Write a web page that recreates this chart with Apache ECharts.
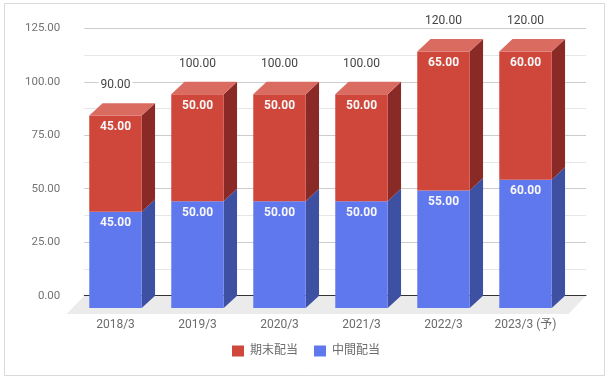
<!DOCTYPE html>
<html>
<head>
<meta charset="utf-8">
<script src="https://cdn.jsdelivr.net/npm/echarts@6/dist/echarts.min.js"></script>
<style>html,body{margin:0;padding:0;background:#fff}#c{width:612px;height:381px}</style>
</head>
<body>
<div id="c"></div>
<script>
const categories = ['2018/3', '2019/3', '2020/3', '2021/3', '2022/3', '2023/3 (予)'];
const interimDividend = [45, 50, 50, 50, 55, 60];   // 中間配当
const yearEndDividend = [45, 50, 50, 50, 65, 60];   // 期末配当
const yMin = 0, yMax = 125, yInterval = 25;

const DX = 13.3, DY = 12.4;
const FONT = 'Roboto, "Noto Sans CJK JP", sans-serif';
const palette = {
  '期末配当': { front: '#cf463b', side: '#8a2a26', top: '#da6b61' },
  '中間配当': { front: '#6078ee', side: '#3d50a2', top: '#8090f0' }
};

const blueData = categories.map((c, i) => [i, 0, interimDividend[i]]);
const redData = categories.map((c, i) => [i, interimDividend[i], interimDividend[i] + yearEndDividend[i]]);
const totalData = categories.map((c, i) => [i, interimDividend[i] + yearEndDividend[i]]);

function boxRenderer(name, isTop) {
  const col = palette[name];
  return function (params, api) {
    const i = api.value(0), v0 = api.value(1), v1 = api.value(2);
    const p0 = api.coord([i, v0]);
    const p1 = api.coord([i, v1]);
    const w = api.size([1, 0])[0] * 0.64;
    const xL = p0[0] - w / 2, xR = p0[0] + w / 2, yB = p0[1], yT = p1[1];
    const children = [
      { type: 'polygon', shape: { points: [[xR, yB], [xR + DX, yB - DY], [xR + DX, yT - DY], [xR, yT]] }, style: { fill: col.side } },
      { type: 'rect', shape: { x: xL, y: yT, width: w, height: yB - yT }, style: { fill: col.front } }
    ];
    if (isTop) {
      children.push({ type: 'polygon', shape: { points: [[xL, yT], [xR, yT], [xR + DX, yT - DY], [xL + DX, yT - DY]] }, style: { fill: col.top } });
    }
    children.push({
      type: 'text', z2: 10,
      style: { text: (v1 - v0).toFixed(2), x: p0[0], y: yT + 11.5, align: 'center', verticalAlign: 'middle',
               fill: '#f8f8f8', font: 'bold 12px ' + FONT }
    });
    return { type: 'group', children };
  };
}

const option = {
  animation: false,
  backgroundColor: '#ffffff',
  textStyle: { fontFamily: FONT },
  graphic: [{
    type: 'rect', shape: { x: 4.5, y: 3.5, width: 600, height: 372 },
    style: { fill: 'none', stroke: '#d9d9d9', lineWidth: 1 }, silent: true, z: -10
  }],
  legend: {
    data: ['期末配当', '中間配当'],
    bottom: 19, left: 'center',
    icon: 'rect', itemWidth: 12, itemHeight: 11, itemGap: 16,
    textStyle: { color: '#6b6b6b', fontSize: 12, fontFamily: FONT, padding: [0, 0, 0, 1] }
  },
  grid: [
    { left: 84.3, right: 26, top: 28.3, bottom: 85.3 },
    { left: 74.5, width: 492, top: 28.3 + DY, bottom: 85.3 - DY }
  ],
  xAxis: [
    { gridIndex: 0, type: 'category', data: categories, z: 1,
      axisLine: { show: true, lineStyle: { color: '#333333', width: 1 } },
      axisTick: { show: false }, axisLabel: { show: false }, splitLine: { show: false } },
    { gridIndex: 1, type: 'category', data: categories,
      axisLine: { show: false }, axisTick: { show: false },
      axisLabel: { color: '#6b6b6b', fontSize: 12, margin: 11, fontFamily: FONT, interval: 0 } }
  ],
  yAxis: [
    { gridIndex: 0, type: 'value', min: yMin, max: yMax, interval: yInterval,
      axisLine: { show: false }, axisTick: { show: false },
      axisLabel: { color: '#737373', fontSize: 11.5, margin: 24, fontFamily: FONT, formatter: v => v.toFixed(2) },
      splitLine: { show: true, lineStyle: { color: '#cccccc', width: 1 } },
      minorTick: { show: false, splitNumber: 2 },
      minorSplitLine: { show: true, lineStyle: { color: '#e6e6e6', width: 1 } } },
    { gridIndex: 1, type: 'value', min: yMin, max: yMax, interval: yInterval, show: false,
      splitLine: { show: false } }
  ],
  series: [
    { name: 'floor', type: 'custom', xAxisIndex: 0, yAxisIndex: 0, z: 0, silent: true,
      data: [[0, 0]],
      renderItem: function (params, api) {
        const cs = params.coordSys;
        const yb = cs.y + cs.height;
        return { type: 'polygon', shape: { points: [[cs.x, yb], [cs.x + cs.width, yb], [cs.x + cs.width - 17.6, yb + 18.3], [cs.x - 17.6, yb + 18.3]] },
                 style: { fill: '#ebebeb' } };
      } },
    { name: '中間配当', type: 'custom', xAxisIndex: 1, yAxisIndex: 1, z: 3,
      itemStyle: { color: palette['中間配当'].front },
      encode: { x: 0, y: [1, 2] }, data: blueData, renderItem: boxRenderer('中間配当', false) },
    { name: '期末配当', type: 'custom', xAxisIndex: 1, yAxisIndex: 1, z: 4,
      itemStyle: { color: palette['期末配当'].front },
      encode: { x: 0, y: [1, 2] }, data: redData, renderItem: boxRenderer('期末配当', true) },
    { name: 'total', type: 'custom', xAxisIndex: 1, yAxisIndex: 1, z: 5, silent: true,
      encode: { x: 0, y: 1 }, data: totalData,
      renderItem: function (params, api) {
        const p = api.coord([api.value(0), api.value(1)]);
        return { type: 'text', style: { text: api.value(1).toFixed(2), x: p[0], y: p[1] - DY - 18.2,
                 align: 'center', verticalAlign: 'middle', fill: '#444444', font: '12px ' + FONT,
                 backgroundColor: '#ffffff', padding: [1, 2] } };
      } }
  ]
};

const chart = echarts.init(document.getElementById('c'), null, { renderer: 'canvas' });
chart.setOption(option);
</script>
</body>
</html>
